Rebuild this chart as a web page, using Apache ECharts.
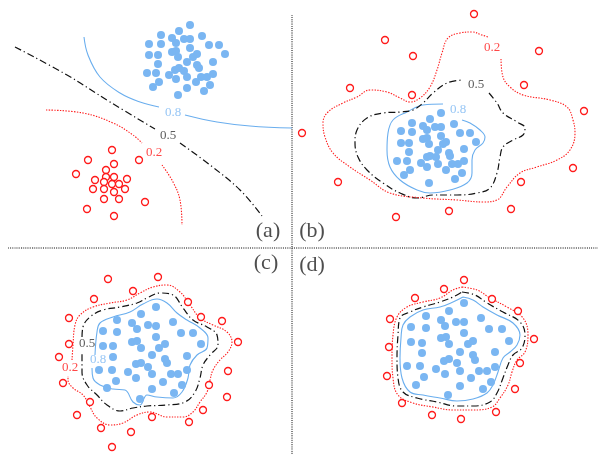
<!DOCTYPE html>
<html>
<head>
<meta charset="utf-8">
<script src="https://cdn.jsdelivr.net/npm/echarts@6/dist/echarts.min.js"></script>
<style>
  html, body { margin: 0; padding: 0; background: #fff; }
  #chart { width: 598px; height: 454px; }
</style>
</head>
<body>
<div id="chart"></div>
<script>
// 坐标与图片像素一致：x 0..598, y 0..454 (向下)
const dividerV = [[292, 15], [292, 454]];
const dividerH = [[8, 248], [598, 248]];

// ---------- (a) ----------
const blueA = [[190,25],[161,35],[179,31],[172,38],[184,39],[190,39],[202,36],[149,44],[161,44],[176,43],[209,45],[219,45],[190,48],[149,55],[158,55],[172,52],[176,51],[178,57],[193,57],[197,54],[225,54],[158,64],[187,62],[197,65],[199,68],[213,62],[147,73],[156,73],[169,75],[175,70],[179,68],[184,71],[176,79],[187,77],[201,77],[207,77],[213,74],[159,82],[153,87],[196,82],[210,85],[187,88],[204,91],[178,95]];
const redA = [[112,150],[88,160],[114,164],[139,160],[76,174],[106,170],[106,177],[95,180],[114,177],[127,179],[104,182],[112,184],[119,184],[93,189],[104,189],[114,192],[125,189],[104,199],[119,199],[145,202],[87,209],[114,216]];
const a08 = [[[84,37],[88,55],[100,77],[120,93],[140,102],[159,107]], [[185,115],[217,122],[250,126],[292,128]]];
const a05 = [[[15,47],[67,75],[110,102],[155,129]], [[180,143],[210,165],[240,190],[262,216]]];
const a02 = [[[46,110],[83,113],[113,123],[133,135],[142,143]], [[162,165],[173,182],[180,200],[182,225]]];

// ---------- (b) ----------
const blueB = [[441,113],[412,123],[430,119],[454,124],[423,126],[435,127],[441,127],[401,131],[412,132],[427,130],[460,133],[470,133],[441,136],[423,139],[427,138],[401,143],[409,143],[429,144],[443,144],[446,142],[476,142],[409,152],[438,150],[449,153],[450,156],[464,149],[427,157],[430,156],[436,157],[397,161],[407,161],[421,163],[438,164],[452,164],[458,164],[464,161],[410,170],[427,167],[446,170],[462,173],[404,175],[455,179],[429,183]];
const redB = [[474,14],[385,40],[539,51],[413,56],[350,88],[524,85],[412,95],[584,111],[302,133],[573,168],[338,182],[521,182],[449,211],[511,209],[396,217]];
const b02 = [[501,59],[503,77],[510,87],[523,95],[550,100],[567,107],[573,120],[575,133],[570,150],[557,160],[537,167],[520,173],[507,187],[497,200],[483,202],[457,200],[423,198],[390,193],[370,180],[350,167],[333,153],[325,137],[323,123],[328,112],[343,103],[357,97],[370,90],[387,92],[400,98],[410,102],[420,98],[430,87],[437,70],[442,53],[448,38],[460,33],[472,32],[482,35],[488,37]];
const b05 = [[489,93],[497,103],[503,113],[517,122],[525,128],[523,135],[513,140],[503,147],[500,157],[497,173],[490,188],[477,193],[457,195],[433,195],[417,198],[400,193],[383,183],[367,170],[358,157],[355,143],[357,130],[367,118],[383,113],[400,112],[413,110],[423,103],[433,93],[447,83],[463,80]];
const b08 = [[443,104],[423,105],[407,112],[393,120],[388,133],[387,150],[390,167],[400,180],[417,190],[430,193],[450,190],[467,183],[472,173],[472,160],[475,150],[483,143],[485,137],[480,130],[470,123],[462,120]];

// ---------- (c) ----------
const blueC = [[156,307],[141,314],[117,320],[173,322],[132,323],[148,325],[156,326],[103,331],[117,332],[137,329],[181,333],[193,333],[156,337],[132,342],[137,341],[103,346],[113,346],[141,348],[159,348],[165,344],[201,344],[113,357],[152,355],[165,359],[167,363],[187,356],[136,364],[141,363],[148,367],[99,370],[112,370],[128,372],[152,374],[171,374],[178,374],[187,370],[116,381],[136,378],[163,382],[182,385],[107,388],[152,389],[174,393],[140,399]];
const redC = [[108,279],[158,277],[133,291],[94,299],[188,302],[69,318],[201,317],[222,321],[238,342],[69,344],[59,357],[228,371],[63,383],[209,385],[227,397],[90,402],[203,410],[77,415],[152,417],[189,422],[101,428],[131,432],[112,447]];
const c02 = [[72,360],[73,345],[75,325],[80,315],[93,307],[110,303],[127,300],[140,293],[153,287],[167,285],[180,292],[190,305],[200,318],[213,325],[227,332],[232,342],[228,352],[220,360],[213,370],[210,380],[207,392],[200,402],[193,412],[183,417],[167,417],[150,412],[137,415],[123,423],[110,425],[97,418],[90,407],[83,395],[73,388],[68,380],[68,376]];
const c05 = [[82,337],[83,327],[90,317],[103,310],[120,307],[137,303],[147,298],[160,293],[173,295],[183,308],[193,320],[207,327],[217,335],[218,345],[210,355],[203,365],[200,378],[195,392],[185,402],[167,405],[147,406],[133,408],[120,411],[107,405],[97,395],[87,385],[82,372],[82,352]];
const c08 = [[95,355],[97,332],[100,323],[113,317],[130,312],[143,304],[157,299],[167,303],[177,313],[187,320],[200,328],[208,338],[207,348],[197,355],[190,365],[188,378],[182,392],[173,398],[157,397],[147,395],[140,405],[133,402],[125,390],[113,389],[100,385],[93,378],[92,368]];

// ---------- (d) ----------
const blueD = [[464,303],[449,311],[426,316],[481,318],[441,320],[456,322],[464,322],[445,326],[411,327],[426,328],[489,329],[502,329],[464,333],[441,338],[446,337],[411,342],[422,343],[449,344],[468,344],[473,341],[509,341],[422,353],[460,352],[473,355],[475,360],[495,352],[444,361],[449,359],[457,363],[407,366],[420,366],[436,369],[460,371],[479,371],[487,371],[495,367],[424,377],[445,374],[471,378],[491,382],[416,385],[460,386],[483,389],[448,395]];
const redD = [[464,280],[444,289],[492,299],[415,298],[518,311],[390,319],[534,339],[389,347],[520,363],[387,376],[515,389],[402,403],[496,412],[432,415],[461,419]];
const d08 = [[463,297],[473,300],[483,307],[497,315],[513,323],[520,335],[517,345],[510,352],[503,358],[498,372],[493,385],[487,393],[473,399],[457,401],[440,398],[423,395],[410,392],[402,378],[400,358],[401,338],[403,325],[410,317],[423,310],[440,307],[453,302],[463,297]];
const d05 = [[462,292],[475,295],[487,303],[503,312],[520,322],[525,335],[522,348],[513,355],[508,365],[503,378],[497,393],[490,402],[473,406],[457,406],[437,402],[417,398],[403,392],[398,378],[397,358],[398,335],[400,318],[410,312],[423,307],[440,302],[453,297],[462,292]];
const d02 = [[462,287],[477,290],[490,298],[507,307],[523,318],[528,335],[525,352],[517,360],[512,372],[508,385],[500,398],[492,407],[473,410],[453,410],[433,407],[413,403],[398,395],[393,378],[392,358],[393,335],[397,317],[407,307],[423,302],[440,298],[453,290],[462,287]];

// 等值线标注 [x, y, 文本]
const labels08 = [[173,113,"0.8"],[458,110,"0.8"],[98,360,"0.8"]];
const labels05 = [[168,136,"0.5"],[476,85,"0.5"],[87,344,"0.5"]];
const labels02 = [[154,153,"0.2"],[492,48,"0.2"],[70,368,"0.2"]];
const panelLabels = [[268,231,"(a)"],[312,231,"(b)"],[266,263,"(c)"],[312,265,"(d)"]];

const BLUE = "#7ab6f2";
const BLUE_LINE = "#6aaeee";
const RED = "#ff1a1a";

const chart = echarts.init(document.getElementById("chart"));

const lineSeries = (data, color, type, width) => ({
  type: "line",
  data: data,
  smooth: 0.4,
  showSymbol: false,
  silent: true,
  animation: false,
  lineStyle: { color: color, type: type, width: width },
  z: 2,
});

const dotDash = [7, 3, 1.2, 3];
const dotted = [1.4, 1.4];

const contours = [];
[a08[0], a08[1], b08, c08, d08].forEach((d) => contours.push(lineSeries(d, BLUE_LINE, "solid", 1.1)));
[a05[0], a05[1], b05, c05, d05].forEach((d) => contours.push(lineSeries(d, "#111", dotDash, 1.2)));
[a02[0], a02[1], b02, c02, d02].forEach((d) => contours.push(lineSeries(d, RED, dotted, 1.1)));

const textSeries = (data, color, size) => ({
  type: "scatter",
  data: data,
  symbolSize: 0,
  silent: true,
  animation: false,
  z: 5,
  label: {
    show: true,
    position: "inside",
    formatter: (p) => p.data[2],
    color: color,
    fontSize: size,
    fontFamily: "Liberation Serif",
  },
});

const option = {
  animation: false,
  grid: { left: 0, right: 0, top: 0, bottom: 0 },
  xAxis: { type: "value", min: 0, max: 598, show: false },
  yAxis: { type: "value", min: 0, max: 454, inverse: true, show: false },
  series: [
    lineSeries(dividerV, "#000", [1, 1.2], 1),
    lineSeries(dividerH, "#000", [1, 1.2], 1),
    ...contours,
    {
      type: "scatter",
      data: [...blueA, ...blueB, ...blueC, ...blueD],
      symbolSize: 8,
      itemStyle: { color: BLUE, opacity: 1 },
      z: 3,
    },
    {
      type: "scatter",
      data: [...redA, ...redB, ...redC, ...redD],
      symbolSize: 7,
      itemStyle: { color: "#fff", borderColor: RED, borderWidth: 1.3, opacity: 1 },
      z: 3,
    },
    textSeries(labels08, BLUE, 13),
    textSeries(labels05, "#333", 13),
    textSeries(labels02, RED, 13),
    textSeries(panelLabels, "#222", 22),
  ],
};

chart.setOption(option);
</script>
</body>
</html>
